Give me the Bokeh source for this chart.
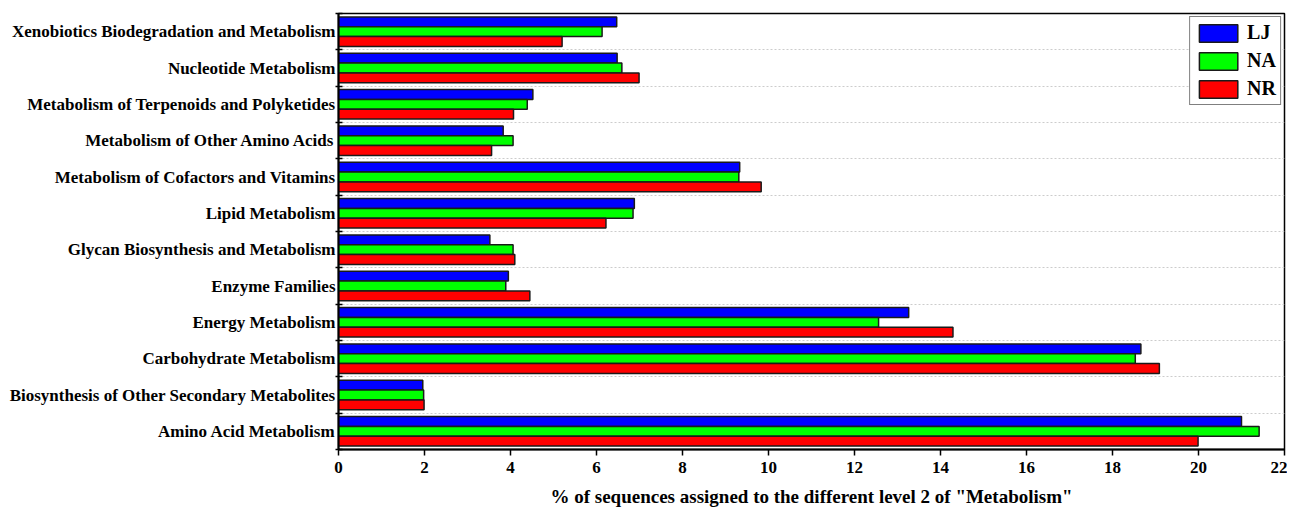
from bokeh.plotting import figure
from bokeh.models import ColumnDataSource, FixedTicker, Legend, LegendItem, Range1d
from bokeh.embed import file_html
from bokeh.resources import INLINE

categories = [
    "Amino Acid Metabolism",
    "Biosynthesis of Other Secondary Metabolites",
    "Carbohydrate Metabolism",
    "Energy Metabolism",
    "Enzyme Families",
    "Glycan Biosynthesis and Metabolism",
    "Lipid Metabolism",
    "Metabolism of Cofactors and Vitamins",
    "Metabolism of Other Amino Acids",
    "Metabolism of Terpenoids and Polyketides",
    "Nucleotide Metabolism",
    "Xenobiotics Biodegradation and Metabolism",
]
lj = [21.00, 1.96, 18.66, 13.26, 3.95, 3.52, 6.88, 9.33, 3.83, 4.52, 6.48, 6.47]
na = [21.41, 1.98, 18.53, 12.56, 3.89, 4.06, 6.85, 9.31, 4.06, 4.39, 6.59, 6.13]
nr = [19.99, 1.99, 19.09, 14.29, 4.45, 4.10, 6.22, 9.83, 3.56, 4.07, 6.99, 5.20]
series_names = ["LJ", "NA", "NR"]
series_colors = ["#0000FF", "#00FF00", "#FF0000"]
x_ticks = list(range(0, 23, 2))

FONT = "Liberation Serif"
n = len(categories)
centers = [i + 0.5 for i in range(n)]
bounds = list(range(n + 1))
bar_h = 0.27
offsets = [bar_h, 0.0, -bar_h]

p = figure(width=1287, height=510, output_backend="svg", toolbar_location=None,
           x_range=Range1d(0, 22), y_range=Range1d(0, n),
           min_border_left=338, min_border_right=3, min_border_top=13, min_border_bottom=61)

renderers = []
for vals, name, color, off in zip([lj, na, nr], series_names, series_colors, offsets):
    src = ColumnDataSource(dict(y=[c + off for c in centers], right=vals))
    r = p.hbar(y="y", right="right", left=0, height=bar_h, source=src,
               fill_color=color, line_color="#1a1a1a", line_width=1.5)
    renderers.append(r)

# y axis: labels at centers, tick marks at boundaries
yax = p.yaxis[0]
yax.ticker = FixedTicker(ticks=centers, minor_ticks=bounds)
yax.major_label_overrides = {c: lab for c, lab in zip(centers, categories)}
yax.major_tick_out = 0
yax.major_tick_in = 0
yax.minor_tick_out = 3
yax.minor_tick_in = 4
yax.minor_tick_line_color = "black"
yax.minor_tick_line_width = 1.5
yax.axis_line_width = 2
yax.axis_line_color = "black"
yax.major_label_standoff = 0
yax.major_label_text_font = FONT
yax.major_label_text_font_style = "bold"
yax.major_label_text_font_size = "17px"
yax.major_label_text_color = "black"

xax = p.xaxis[0]
xax.ticker = FixedTicker(ticks=x_ticks)
xax.major_tick_out = 6
xax.major_tick_in = 0
xax.major_tick_line_width = 1.5
xax.major_tick_line_color = "black"
xax.minor_tick_line_color = None
xax.axis_line_width = 2
xax.axis_line_color = "black"
xax.major_label_standoff = 6
xax.major_label_text_font = FONT
xax.major_label_text_font_style = "bold"
xax.major_label_text_font_size = "17px"
xax.major_label_text_color = "black"
xax.axis_label = '% of sequences assigned to the different level 2 of "Metabolism"'
xax.axis_label_text_font = FONT
xax.axis_label_text_font_style = "bold"
xax.axis_label_text_font_size = "19px"
xax.axis_label_text_color = "black"
xax.axis_label_standoff = 10

p.xgrid.grid_line_color = None
p.ygrid.ticker = FixedTicker(ticks=bounds[1:-1])
p.ygrid.grid_line_color = "#cccccc"
p.ygrid.grid_line_dash = "2 2"
p.ygrid.grid_line_width = 1

p.outline_line_color = "black"
p.outline_line_width = 1.5

legend = Legend(items=[LegendItem(label=nm, renderers=[r]) for nm, r in zip(series_names, renderers)],
                location="top_right")
legend.label_text_font = FONT
legend.label_text_font_style = "bold"
legend.label_text_font_size = "20px"
legend.label_text_color = "black"
legend.glyph_width = 48
legend.glyph_height = 22
legend.label_standoff = 5
legend.spacing = 5
legend.padding = 4
legend.margin = 3
legend.border_line_color = "black"
legend.border_line_width = 1
legend.background_fill_alpha = 1
p.add_layout(legend)

open("out.html", "w").write(file_html(p, INLINE))
